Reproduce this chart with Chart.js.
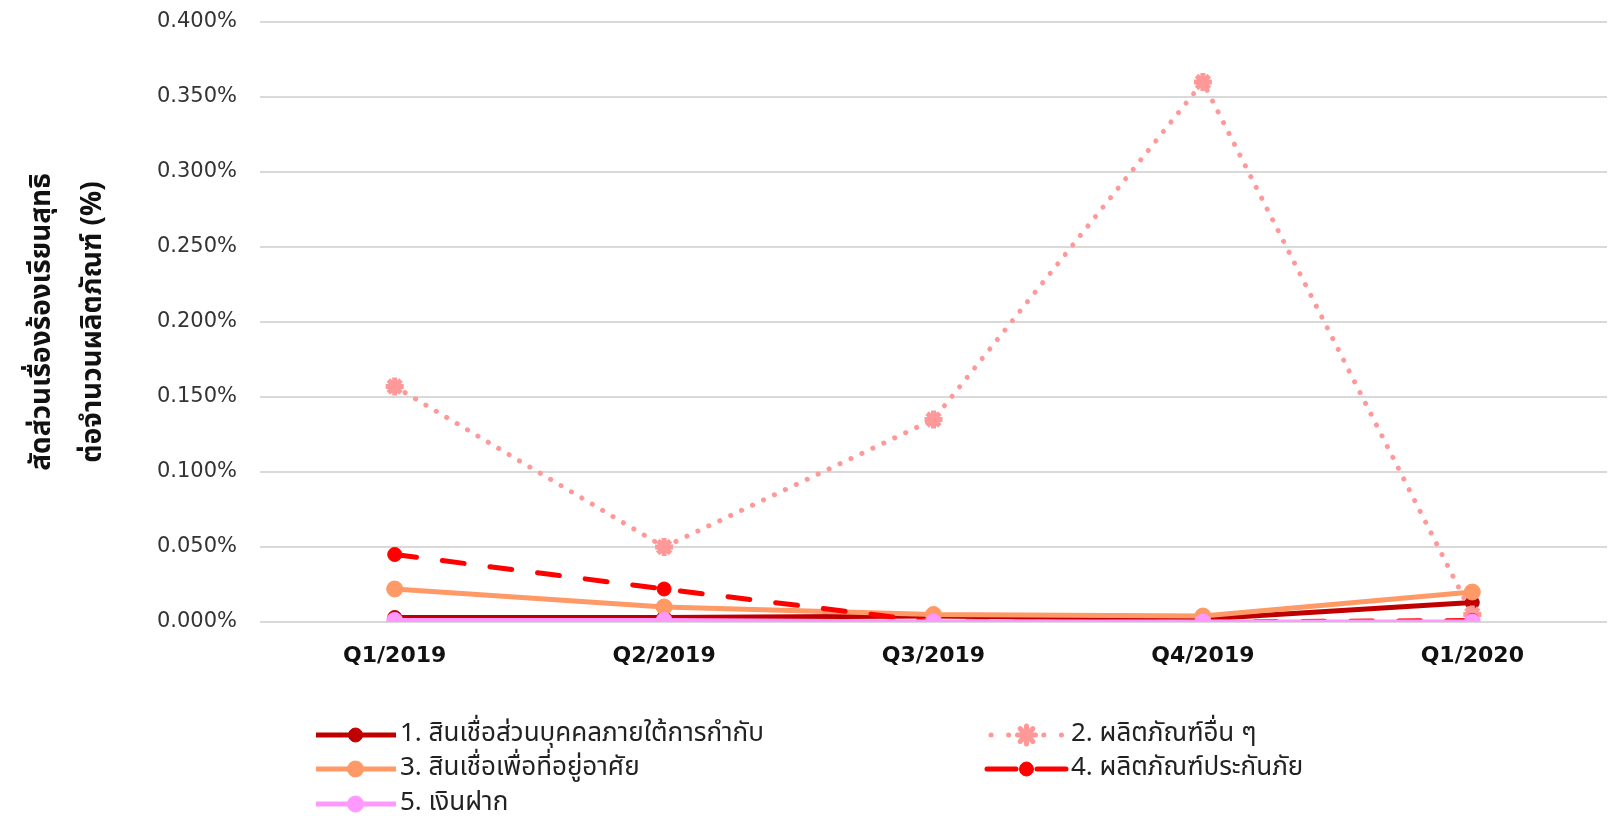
<!DOCTYPE html>
<html>
<head>
<meta charset="utf-8">
<script src="https://cdn.jsdelivr.net/npm/chart.js@4"></script>
<style>
  html, body { margin: 0; padding: 0; background: #fff; overflow: hidden; }
  #wrap { position: relative; width: 1621px; height: 816px; }
</style>
</head>
<body>
<div id="wrap"><canvas id="complaintChart"></canvas></div>
<script>
// quarters on the x axis
const quarters = ['Q1/2019', 'Q2/2019', 'Q3/2019', 'Q4/2019', 'Q1/2020'];

// ratio of net complaints per product count, in %
const personalLoan = [0.003, 0.003, 0.004, 0.002, 0.013];
const otherProducts = [0.157, 0.050, 0.135, 0.360, 0.005];
const housingLoan = [0.022, 0.010, 0.005, 0.004, 0.020];
const insurance = [0.045, 0.022, 0.000, 0.000, 0.001];
const deposit = [0.001, 0.001, 0.000, 0.000, 0.000];

const seriesNames = [
    '1. สินเชื่อส่วนบุคคลภายใต้การกำกับ',
    '2. ผลิตภัณฑ์อื่น ๆ',
    '3. สินเชื่อเพื่อที่อยู่อาศัย',
    '4. ผลิตภัณฑ์ประกันภัย',
    '5. เงินฝาก'
];

const yTicks = { min: 0, max: 0.4, step: 0.05 };
const yTitle = ['สัดส่วนเรื่องร้องเรียนสุทธิ', 'ต่อจำนวนผลิตภัณฑ์ (%)'];

const thaiFont = "Tahoma, 'Noto Sans Thai', 'Noto Sans', 'DejaVu Sans', sans-serif";

function line(label, data, color, extra)
{
    return Object.assign({
        label: label,
        data: data,
        borderColor: color,
        backgroundColor: color,
        pointBackgroundColor: color,
        pointBorderColor: color,
        borderWidth: 5,
        pointRadius: 7,
        pointHoverRadius: 7,
        pointBorderWidth: 1,
        pointStyle: 'circle',
        tension: 0,
        fill: false
    }, extra || {});
}

const datasets = [
    line(seriesNames[0], personalLoan, '#c00000', { order: 5 }),
    line(seriesNames[1], otherProducts, '#ff9999', {
        order: 4, borderDash: [0.1, 12], borderCapStyle: 'round',
        pointStyle: 'star', pointRadius: 9, pointBorderWidth: 5,
        legendDash: [0.1, 17.5], legendInset: 4
    }),
    line(seriesNames[2], housingLoan, '#ff9966', { order: 3, pointRadius: 8 }),
    line(seriesNames[3], insurance, '#ff0000', {
        order: 2, borderDash: [22, 26], borderCapStyle: 'round',
        legendDash: [29, 21], legendInset: 0
    }),
    line(seriesNames[4], deposit, '#ff99ff', { order: 1, pointRadius: 8 })
];

// legend laid out in two fixed columns like the original
const columnLegend = {
    id: 'columnLegend',
    afterDraw: function (chart, args, opts)
    {
        const ctx = chart.ctx;
        chart.data.datasets.forEach((ds, i) =>
        {
            const pos = opts.slots[i];
            const y = pos.y;
            const inset = ds.legendInset || 0;
            ctx.save();
            ctx.strokeStyle = ds.borderColor;
            ctx.lineWidth = ds.borderWidth;
            ctx.lineCap = ds.borderCapStyle || 'butt';
            ctx.setLineDash(ds.legendDash || []);
            ctx.beginPath();
            ctx.moveTo(pos.x + inset, y);
            ctx.lineTo(pos.x + opts.lineLength - inset + 1, y);
            ctx.stroke();
            ctx.setLineDash([]);
            ctx.fillStyle = ds.pointBackgroundColor;
            ctx.strokeStyle = ds.pointBorderColor;
            ctx.lineWidth = ds.pointBorderWidth;
            Chart.helpers.drawPoint(ctx, {
                pointStyle: ds.pointStyle,
                radius: ds.pointRadius,
                borderWidth: ds.pointBorderWidth,
                rotation: 0
            }, pos.x + opts.lineLength / 2, y);
            ctx.fillStyle = '#222';
            ctx.font = opts.font;
            ctx.textBaseline = 'middle';
            ctx.textAlign = 'left';
            ctx.fillText(ds.label, pos.x + opts.lineLength + 5, y + 1);
            ctx.restore();
        });
    }
};

new Chart(document.getElementById('complaintChart').getContext('2d'),
{
    type: 'line',
    data: { labels: quarters, datasets: datasets },
    plugins: [columnLegend],
    options: {
        responsive: true,
        maintainAspectRatio: false,
        animation: false,
        layout: { padding: { top: 22, right: 1, left: 0, bottom: 0 } },
        plugins: {
            legend: { display: false },
            tooltip: { enabled: false },
            columnLegend: {
                lineLength: 79,
                font: '26px ' + thaiFont,
                slots: [
                    { x: 316, y: 735 },
                    { x: 987, y: 735 },
                    { x: 316, y: 769 },
                    { x: 987, y: 769 },
                    { x: 316, y: 804 }
                ]
            }
        },
        scales: {
            x: {
                offset: true,
                grid: { display: false, drawTicks: false },
                border: { display: false },
                ticks: {
                    padding: 21,
                    color: '#111',
                    font: { family: "Tahoma, 'DejaVu Sans', sans-serif", size: 22, weight: 'bold' }
                },
                afterFit: (scale) => { scale.height = 194; }
            },
            y: {
                min: yTicks.min,
                max: yTicks.max,
                grid: { color: '#d9d9d9', lineWidth: 2, drawTicks: false },
                border: { display: false },
                ticks: {
                    stepSize: yTicks.step,
                    padding: 23,
                    color: '#333',
                    font: { family: "Tahoma, 'DejaVu Sans', sans-serif", size: 21 },
                    callback: (v) => v.toFixed(3) + '%'
                },
                title: {
                    display: true,
                    text: yTitle,
                    color: '#111',
                    padding: { top: 18, bottom: 0 },
                    font: { family: thaiFont, size: 28, weight: 'bold', lineHeight: 1.85 }
                },
                afterFit: (scale) =>
                {
                    scale.width = 260;
                    scale.paddingTop = 0;
                    scale.paddingBottom = 0;
                }
            }
        }
    }
});
</script>
</body>
</html>
